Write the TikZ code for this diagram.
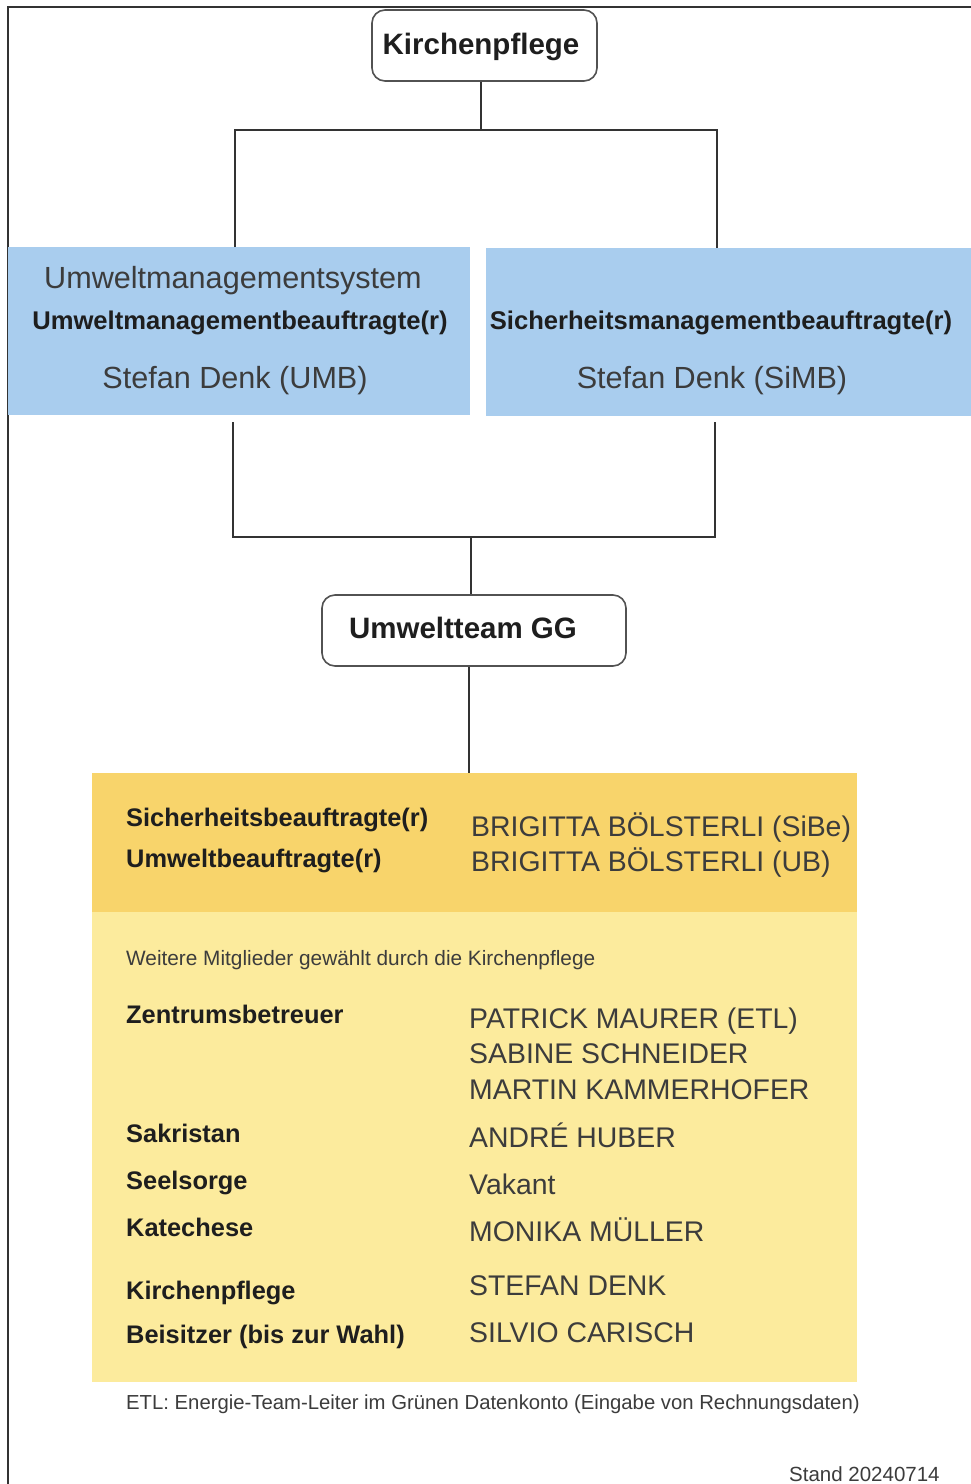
\documentclass[tikz,border=0pt]{standalone}
\usepackage{fontspec}
\setmainfont{Liberation Sans}
\definecolor{blueb}{HTML}{A9CDEE}
\definecolor{oran}{HTML}{F8D46B}
\definecolor{yell}{HTML}{FCEB9D}
\definecolor{txt}{HTML}{3C3C3C}
\definecolor{ink}{HTML}{1E1E1E}
\definecolor{ln}{HTML}{333333}
\begin{document}
\begin{tikzpicture}[x=1pt,y=-1pt,
  conn/.style={draw=ln, line width=2pt},
  rbox/.style={draw=ln!85, line width=1.6pt, rounded corners=13pt, fill=white, inner sep=0pt},
  area/.style={inner sep=0pt, draw=none, anchor=north west},
  lbl/.style={anchor=base west, inner sep=0pt, text=ink, font=\fontsize{25.4}{30}\selectfont\bfseries},
  nam/.style={anchor=base west, inner sep=0pt, text=txt, font=\fontsize{28.4}{33}\selectfont},
  big/.style={anchor=base, inner sep=0pt, text=txt, font=\fontsize{30.6}{36}\selectfont},
  blbl/.style={anchor=base, inner sep=0pt, text=ink, font=\fontsize{25.6}{30}\selectfont\bfseries},
  head/.style={anchor=base, inner sep=0pt, text=ink, font=\fontsize{29.5}{34}\selectfont\bfseries},
  small/.style={anchor=base west, inner sep=0pt, text=txt, font=\fontsize{20.5}{25}\selectfont},
]
\useasboundingbox (0,0) rectangle (971,1484);
\fill[white] (0,0) rectangle (971,1484);
\draw[ln, line width=1.5pt] (971,7) -- (8,7) -- (8,1490);

% top box
\node[rbox, minimum width=225pt, minimum height=71pt] (kp) at (484.5,45.5) {};
\node[head] (kpt) at (481,54) {Kirchenpflege};

% blue boxes
\node[area, fill=blueb, minimum width=462pt, minimum height=168pt] (umb) at (8,247) {};
\node[area, fill=blueb, minimum width=485pt, minimum height=168pt] (smb) at (486,248) {};
\node[big] (t1) at (233,288) {Umweltmanagementsystem};
\node[blbl] (t2) at (240,329) {Umweltmanagementbeauftragte(r)};
\node[big] (t3) at (235,388) {Stefan Denk (UMB)};
\node[blbl] (t4) at (721,329) {Sicherheitsmanagementbeauftragte(r)};
\node[big] (t5) at (712,388) {Stefan Denk (SiMB)};

% top connectors
\coordinate (j1) at (481,130);
\coordinate (la) at (235,130);
\coordinate (ra) at (717,130);
\draw[conn] (kp.south -| j1) -- (j1);
\draw[conn] (la |- umb.north) -- (la) -- (ra) -- (ra |- smb.north);

% Umweltteam box
\node[rbox, minimum width=304pt, minimum height=71pt] (ut) at (474,630.5) {};
\node[head] (utt) at (463,638) {Umweltteam GG};

% lower connectors
\coordinate (lt) at (233,422);
\coordinate (rt) at (715,422);
\coordinate (lb) at (233,537);
\coordinate (rb) at (715,537);
\coordinate (mb) at (471,537);
\draw[conn] (lt) -- (lb) -- (rb) -- (rt);
\draw[conn] (mb) -- (mb |- ut.north);

% team areas
\node[area, fill=oran, minimum width=765pt, minimum height=139pt] (ob) at (92,773) {};
\node[area, fill=yell, minimum width=765pt, minimum height=470pt] (yb) at (92,912) {};
\coordinate (ud) at (469,700);
\draw[conn] (ud |- ut.south) -- (ud |- ob.north);

\node[lbl] (s1) at (126,826) {Sicherheitsbeauftragte(r)};
\node[lbl] (s2) at (126,867) {Umweltbeauftragte(r)};
\node[nam] (n1) at (471,836) {BRIGITTA BÖLSTERLI (SiBe)};
\node[nam] (n2) at (471,871) {BRIGITTA BÖLSTERLI (UB)};

\node[small, font=\fontsize{20.8}{25}\selectfont] (w1) at (126,965) {Weitere Mitglieder gewählt durch die Kirchenpflege};

\node[lbl] (r1) at (126,1023) {Zentrumsbetreuer};
\node[nam] (m1) at (469,1028) {PATRICK MAURER (ETL)};
\node[nam] (m2) at (469,1063) {SABINE SCHNEIDER};
\node[nam] (m3) at (469,1099) {MARTIN KAMMERHOFER};
\node[lbl] (r2) at (126,1142) {Sakristan};
\node[nam] (m4) at (469,1147) {ANDRÉ HUBER};
\node[lbl] (r3) at (126,1189) {Seelsorge};
\node[nam] (m5) at (469,1194) {Vakant};
\node[lbl] (r4) at (126,1236) {Katechese};
\node[nam] (m6) at (469,1241) {MONIKA MÜLLER};
\node[lbl] (r5) at (126,1299) {Kirchenpflege};
\node[nam] (m7) at (469,1295) {STEFAN DENK};
\node[lbl] (r6) at (126,1343) {Beisitzer (bis zur Wahl)};
\node[nam] (m8) at (469,1342) {SILVIO CARISCH};

\node[small, font=\fontsize{20.3}{25}\selectfont] (f1) at (126,1409) {ETL: Energie-Team-Leiter im Grünen Datenkonto (Eingabe von Rechnungsdaten)};
\node[small] (f2) at (789,1481) {Stand 20240714};
\end{tikzpicture}
\end{document}
